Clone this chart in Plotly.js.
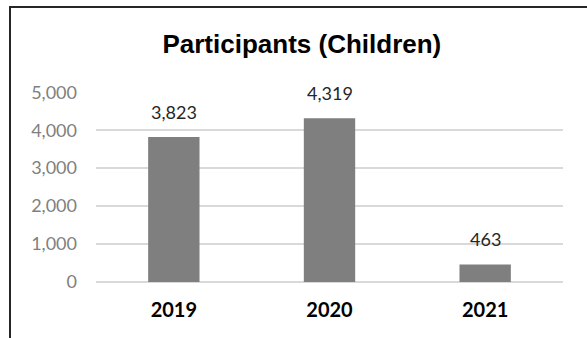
<!DOCTYPE html>
<html>
<head>
<meta charset="utf-8">
<script src="https://cdn.plot.ly/plotly-3.0.1.min.js"></script>
<style>
  html, body { margin: 0; padding: 0; background: #ffffff; overflow: hidden; }
  #frame {
    position: absolute; left: 9px; top: 6px;
    width: 576px; height: 330px;
    border-left: 2px solid #262626;
    border-top: 2px solid #262626;
  }
  #chart { width: 576px; height: 330px; }
</style>
</head>
<body>
<div id="frame"><div id="chart"></div></div>
<script>
// Number of child participants per year
const years = ['2019', '2020', '2021'];
const participants = [3823, 4319, 463];
const yTickValues = [0, 1000, 2000, 3000, 4000, 5000];
const yTickLabels = ['0', '1,000', '2,000', '3,000', '4,000', '5,000'];
const chartTitle = 'Participants (Children)';

const fmt = v => v.toLocaleString('en-US');

const trace = {
  type: 'bar',
  x: years,
  y: participants,
  marker: { color: '#7f7f7f', line: { width: 0 } },
  hoverinfo: 'x+y'
};

// Value labels sitting above each bar (x given as category index)
const labels = years.map((yr, i) => ({
  x: i,
  y: participants[i],
  xref: 'x',
  yref: 'y',
  text: fmt(participants[i]),
  showarrow: false,
  yanchor: 'bottom',
  yshift: 12,
  font: { family: 'Lato, sans-serif', size: 18, color: '#262626' }
}));

const layout = {
  width: 576,
  height: 330,
  margin: { l: 85, r: 24, t: 84, b: 56 },
  paper_bgcolor: '#ffffff',
  plot_bgcolor: '#ffffff',
  showlegend: false,
  bargap: 0.67,
  title: {
    text: '<b>' + chartTitle + '</b>',
    font: { family: '"Liberation Sans", Arial, sans-serif', size: 26, color: '#000000' },
    x: 0.505,
    xanchor: 'center',
    xref: 'container',
    y: 1 - 36 / 330,
    yanchor: 'middle',
    yref: 'container'
  },
  xaxis: {
    type: 'category',
    range: [-0.5, 2.5],
    showgrid: false,
    zeroline: false,
    showline: false,
    ticks: '',
    ticklabelstandoff: 14,
    tickfont: { family: 'Lato, sans-serif', size: 20, color: '#000000', weight: 'bold' }
  },
  yaxis: {
    range: [0, 5008],
    tickvals: yTickValues,
    ticktext: yTickLabels,
    showgrid: true,
    gridcolor: '#d9d9d9',
    gridwidth: 1.5,
    zeroline: true,
    zerolinecolor: '#d9d9d9',
    zerolinewidth: 1.5,
    showline: false,
    ticks: '',
    ticklabelstandoff: 18,
    tickfont: { family: 'Lato, sans-serif', size: 18, color: '#7f7f7f' }
  },
  annotations: labels
};

Plotly.newPlot('chart', [trace], layout, { displayModeBar: false, staticPlot: true });
</script>
</body>
</html>
